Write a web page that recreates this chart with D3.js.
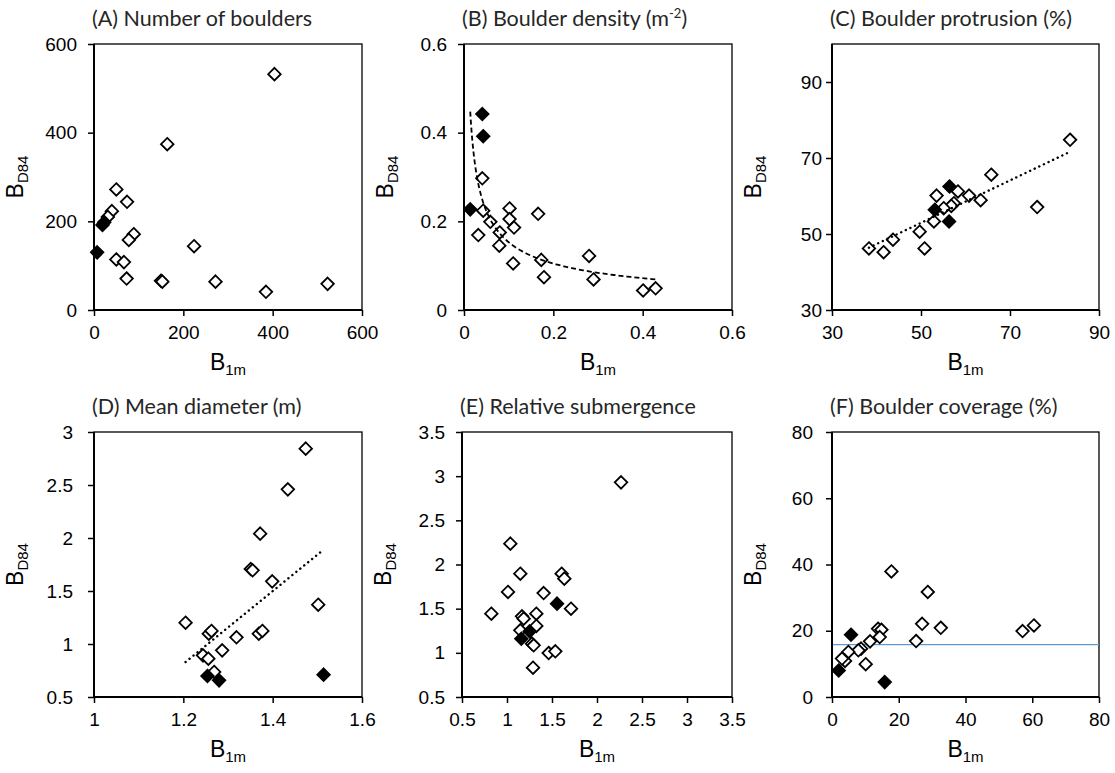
<!DOCTYPE html>
<html><head><meta charset="utf-8">
<script src="https://cdn.jsdelivr.net/npm/d3@7"></script>
<style>body{margin:0;background:#fff}</style>
</head><body>
<svg id="c" width="1115" height="773"></svg>
<script>
// ---------- DATA ----------
const titlesArr = ["(A) Number of boulders","(B) Boulder density (m","(C) Boulder protrusion (%)","(D) Mean diameter (m)","(E) Relative submergence","(F) Boulder coverage (%)"];

const aOpenX = [404,164,50,74,40,31,89,78,50,67,73,150,153,224,272,385,523];
const aOpenY = [532,374,272,244,223,210,171,158,114,108,71,66,64,144,64,41,59];
const aFillX = [7,19,23];
const aFillY = [130,192,198];

const bOpenX = [0.041,0.043,0.032,0.059,0.080,0.079,0.102,0.102,0.112,0.110,0.166,0.173,0.179,0.280,0.290,0.401,0.429];
const bOpenY = [0.297,0.224,0.169,0.199,0.175,0.145,0.229,0.205,0.186,0.105,0.217,0.113,0.074,0.122,0.069,0.044,0.049];
const bFillX = [0.041,0.043,0.014];
const bFillY = [0.442,0.392,0.227];
const bTrend = {a:0.0435, b:-0.546, x0:0.014, x1:0.429};

const cOpenX = [83.5,65.8,76.1,63.4,60.8,58.3,57.4,56.8,53.5,55.1,52.9,49.7,50.8,43.7,41.6,38.3];
const cOpenY = [74.8,65.6,57.1,58.9,60.1,61.2,58.1,57.4,60.1,56.8,53.3,50.6,46.2,48.5,45.2,46.2];
const cFillX = [56.4,53.1,56.3];
const cFillY = [62.5,56.4,53.3];
const cTrendX = [38.3,83.6];
const cTrendY = [46.4,71.7];

const dOpenX = [1.474,1.434,1.372,1.351,1.355,1.399,1.502,1.205,1.257,1.263,1.369,1.377,1.319,1.287,1.244,1.256,1.269];
const dOpenY = [2.843,2.459,2.041,1.707,1.695,1.591,1.371,1.201,1.097,1.123,1.097,1.123,1.063,0.940,0.893,0.862,0.736];
const dFillX = [1.254,1.280,1.514];
const dFillY = [0.698,0.657,0.711];
const dTrendX = [1.205,1.514];
const dTrendY = [0.830,1.890];

const eOpenX = [2.267,1.037,1.148,1.607,1.637,1.011,1.407,0.826,1.167,1.185,1.326,1.711,1.326,1.148,1.278,1.296,1.463,1.537,1.289];
const eOpenY = [2.930,2.236,1.896,1.896,1.840,1.689,1.677,1.443,1.413,1.387,1.443,1.500,1.304,1.255,1.104,1.085,0.998,1.017,0.832];
const eFillX = [1.556,1.159,1.252];
const eFillY = [1.557,1.160,1.243];

const fOpenX = [17.8,28.7,27.0,32.6,25.2,57.1,60.5,13.8,14.8,14.3,11.4,10.1,8.7,7.9,4.9,3.9,3.0];
const fOpenY = [37.9,31.7,22.1,20.9,16.9,19.9,21.6,20.6,20.3,18.1,16.8,9.9,14.6,14.1,13.6,10.9,11.6];
const fFillX = [5.7,2.0,15.8];
const fFillY = [18.8,8.0,4.5];
const fRefY = 15.8;

const aTicks = [0,200,400,600];
const bTicks = [0,0.2,0.4,0.6];
const cTicks = [30,50,70,90];
const dXTicks = [1,1.2,1.4,1.6];
const dYTicks = [0.5,1,1.5,2,2.5,3];
const eTicks = [0.5,1,1.5,2,2.5,3,3.5];
const fTicks = [0,20,40,60,80];

// ---------- LAYOUT ----------
const svg = d3.select("#c");
const panels = [
  {t:0, L:94, R:362, T:44, B:310, xd:[0,600], yd:[0,600], xt:aTicks, yt:aTicks, ox:aOpenX, oy:aOpenY, fx:aFillX, fy:aFillY, ylg:17},
  {t:1, L:464, R:732, T:44, B:310, xd:[0,0.6], yd:[0,0.6], xt:bTicks, yt:bTicks, ox:bOpenX, oy:bOpenY, fx:bFillX, fy:bFillY, ylg:17, sup:true},
  {t:2, L:832, R:1099, T:44, B:310, xd:[30,90], yd:[30,100], xt:cTicks, yt:cTicks, ox:cOpenX, oy:cOpenY, fx:cFillX, fy:cFillY, ylg:10},
  {t:3, L:94, R:362, T:432, B:697, xd:[1,1.6], yd:[0.5,3], xt:dXTicks, yt:dYTicks, ox:dOpenX, oy:dOpenY, fx:dFillX, fy:dFillY, ylg:21},
  {t:4, L:462, R:732, T:432, B:697, xd:[0.5,3.5], yd:[0.5,3.5], xt:eTicks, yt:eTicks, ox:eOpenX, oy:eOpenY, fx:eFillX, fy:eFillY, ylg:17},
  {t:5, L:832, R:1099, T:432, B:697, xd:[0,80], yd:[0,80], xt:fTicks, yt:fTicks, ox:fOpenX, oy:fOpenY, fx:fFillX, fy:fFillY, ylg:19}
];

const tickFont = "'Liberation Sans', Arial, sans-serif";
const titleFont = "Lato, 'Open Sans', sans-serif";
const diamond = d3.symbol().type(d3.symbolDiamond2).size(100);

panels.forEach((p,i)=>{
  const x = d3.scaleLinear().domain(p.xd).range([p.L,p.R]);
  const y = d3.scaleLinear().domain(p.yd).range([p.B,p.T]);
  const g = svg.append("g");

  // frame
  g.append("rect").attr("x",p.L).attr("y",p.T).attr("width",p.R-p.L).attr("height",p.B-p.T)
    .attr("fill","none").attr("stroke","#000").attr("stroke-width",1.3);

  // axes
  const xa = g.append("g").attr("transform",`translate(0,${p.B})`)
    .call(d3.axisBottom(x).tickValues(p.xt).tickSize(6).tickPadding(10).tickFormat(d=>String(d)));
  const ya = g.append("g").attr("transform",`translate(${p.L},0)`)
    .call(d3.axisLeft(y).tickValues(p.yt).tickSize(6).tickPadding(p.ylg-6).tickFormat(d=>String(d)));
  [xa,ya].forEach(a=>{
    a.select(".domain").attr("stroke","#000").attr("stroke-width",2);
    a.selectAll(".tick line").attr("stroke","#000").attr("stroke-width",1.5);
    a.selectAll(".tick text").attr("font-family",tickFont).attr("font-size",19).attr("fill","#000");
  });
  xa.select(".domain").attr("d",`M${p.L},0H${p.R}`);
  ya.select(".domain").attr("d",`M0,${p.B}V${p.T}`);

  // title
  const tt = svg.append("text").attr("x",p.L-2).attr("y",p.T-18)
    .attr("font-family",titleFont).attr("font-size",21.5).attr("fill","#262626").text(titlesArr[p.t]);
  if(p.sup){
    tt.append("tspan").attr("font-size",13).attr("dy",-8).text("-2");
    tt.append("tspan").attr("dy",8).text(")");
  }

  // axis labels
  const xl = svg.append("text").attr("x",(p.L+p.R)/2).attr("y",p.B+60).attr("text-anchor","middle")
    .attr("font-family",tickFont).attr("font-size",23).attr("fill","#000");
  xl.append("tspan").text("B");
  xl.append("tspan").attr("font-size",15).attr("dy",5).text("1m");
  const yl = svg.append("text").attr("transform",`translate(${p.L-71},${(p.T+p.B)/2}) rotate(-90)`)
    .attr("text-anchor","middle").attr("font-family",tickFont).attr("font-size",23).attr("fill","#000");
  yl.append("tspan").text("B");
  yl.append("tspan").attr("font-size",15).attr("dy",5).text("D84");

  // reference line (F)
  if(p.t===5){
    g.append("line").attr("x1",p.L+1).attr("x2",p.R).attr("y1",y(fRefY)).attr("y2",y(fRefY))
      .attr("stroke","#5B9BD5").attr("stroke-width",1.3);
  }

  // open markers
  g.selectAll(".o").data(p.ox.map((v,k)=>[v,p.oy[k]])).join("path")
    .attr("transform",d=>`translate(${x(d[0])},${y(d[1])})`).attr("d",diamond)
    .attr("fill","#fff").attr("stroke","#000").attr("stroke-width",1.8);
  // filled markers
  g.selectAll(".f").data(p.fx.map((v,k)=>[v,p.fy[k]])).join("path")
    .attr("transform",d=>`translate(${x(d[0])},${y(d[1])})`).attr("d",diamond)
    .attr("fill","#000").attr("stroke","#000").attr("stroke-width",1.8);

  // trendlines
  if(p.t===1){
    const pts = d3.range(0,101).map(k=>{const xv=bTrend.x0+(bTrend.x1-bTrend.x0)*Math.pow(k/100,2);return [xv,bTrend.a*Math.pow(xv,bTrend.b)];});
    g.append("path").attr("d",d3.line().x(d=>x(d[0])).y(d=>y(d[1]))(pts))
      .attr("fill","none").attr("stroke","#000").attr("stroke-width",1.8).attr("stroke-dasharray","5,3");
  }
  if(p.t===2 || p.t===3){
    const tx = p.t===2?cTrendX:dTrendX, ty = p.t===2?cTrendY:dTrendY;
    g.append("line").attr("x1",x(tx[0])).attr("x2",x(tx[1])).attr("y1",y(ty[0])).attr("y2",y(ty[1]))
      .attr("stroke","#000").attr("stroke-width",2.4).attr("stroke-dasharray","0.1,5").attr("stroke-linecap","round");
  }
});
</script>
</body></html>
